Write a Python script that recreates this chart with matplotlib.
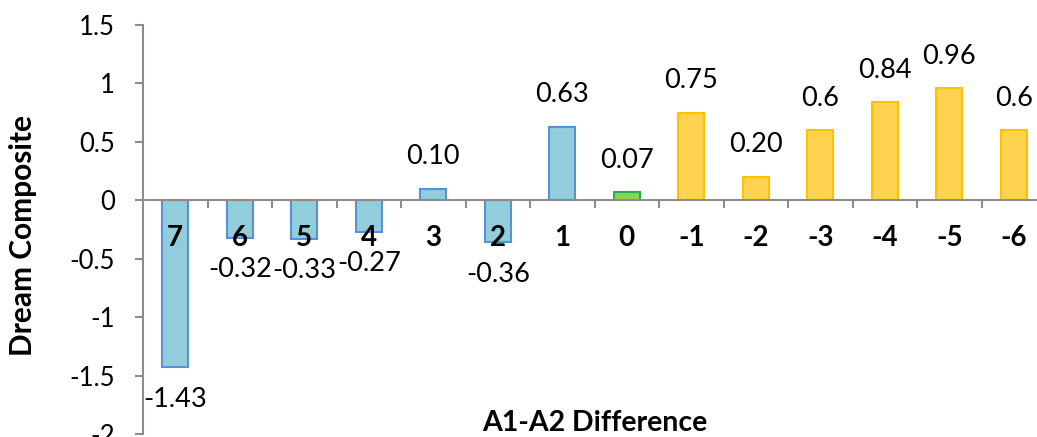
import matplotlib.pyplot as plt

plt.rcParams['font.family'] = ['Lato', 'DejaVu Sans']

# Datos
categories = ['7', '6', '5', '4', '3', '2', '1', '0', '-1', '-2', '-3', '-4', '-5', '-6']
values = [-1.43, -0.32, -0.33, -0.27, 0.10, -0.36, 0.63, 0.07, 0.75, 0.20, 0.6, 0.84, 0.96, 0.6]
value_labels = ['-1.43', '-0.32', '-0.33', '-0.27', '0.10', '-0.36', '0.63', '0.07',
                '0.75', '0.20', '0.6', '0.84', '0.96', '0.6']
groups = ['pos'] * 7 + ['zero'] + ['neg'] * 6

fills = {'pos': '#92CDDC', 'zero': '#92D050', 'neg': '#FFD34F'}
edges = {'pos': '#5B8FD6', 'zero': '#1FB04E', 'neg': '#FFC000'}

fig = plt.figure(figsize=(10.37, 4.37), dpi=100)
ax = fig.add_axes([143 / 1037, 3 / 437, 903 / 1037, 409 / 437])

x = list(range(len(categories)))
ax.bar(x, values, width=0.4,
       color=[fills[g] for g in groups],
       edgecolor=[edges[g] for g in groups], linewidth=1.5, zorder=2)

ax.set_xlim(-0.5, len(categories) - 0.5)
ax.set_ylim(-2, 1.5)
ax.set_yticks([-2, -1.5, -1, -0.5, 0, 0.5, 1, 1.5])
ax.set_yticklabels(['-2', '-1.5', '-1', '-0.5', '0', '0.5', '1', '1.5'])

# Ejes
gray = '#8C8C8C'
ax.spines['top'].set_visible(False)
ax.spines['right'].set_visible(False)
ax.spines['left'].set_color(gray)
ax.spines['left'].set_linewidth(1.5)
ax.spines['bottom'].set_position(('data', 0))
ax.spines['bottom'].set_color(gray)
ax.spines['bottom'].set_linewidth(1.5)
ax.spines['bottom'].set_zorder(3)

ax.set_xticks([])
ax.set_xticks([i + 0.5 for i in range(len(categories) - 1)], minor=True)
ax.tick_params(axis='x', which='minor', direction='out', length=6, width=1.5, color=gray)
ax.tick_params(axis='y', direction='out', length=6, width=1.5, color=gray,
               labelsize=18.5, pad=14)

# Etiquetas de categoria
for xi, c in zip(x, categories):
    ax.annotate(c, (xi, 0), xytext=(0, -27), textcoords='offset points',
                ha='center', va='center', fontsize=20, fontweight='bold')

# Etiquetas de valores
for xi, v, lab in zip(x, values, value_labels):
    off = 23 if v > 0 else -23
    ax.annotate(lab, (xi, v), xytext=(0, off), textcoords='offset points',
                ha='center', va='center', fontsize=19.5)

fig.text(23 / 1037, 1 - 236 / 437, 'Dream Composite', rotation=90,
         ha='center', va='center', fontsize=21.5, fontweight='bold')
fig.text(595 / 1037, 1 - 423 / 437, 'A1-A2 Difference',
         ha='center', va='center', fontsize=20.5, fontweight='bold')

fig.savefig('out.png', dpi=100)
